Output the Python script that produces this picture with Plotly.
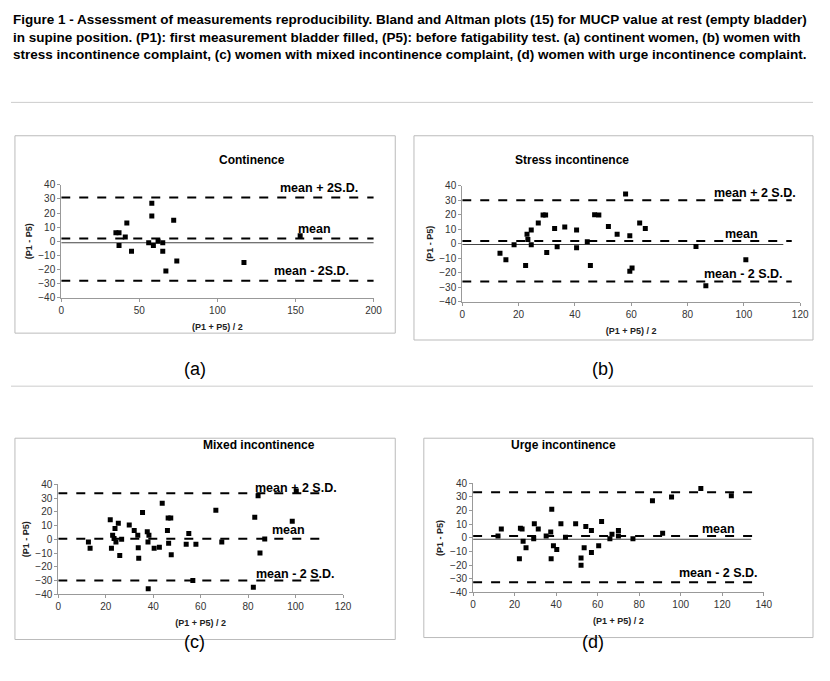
import plotly.graph_objects as go
from plotly.subplots import make_subplots

# page body has an 8px margin, so the figure is drawn slightly smaller and shifted
OFF = 8
W, H = 830 - 2 * OFF, 681 - 2 * OFF


def fx(px):
    return (px - OFF) / W


def fy(py):
    return 1 - (py - OFF) / H


# (a) Continence
a_x = [35, 37, 37, 41, 42, 45, 56, 58, 58, 59, 62, 65, 65, 67, 72, 74, 117, 153]
a_y = [6, 6, -3, 3, 13, -7, -1, 18, 27, -3, 0, -1, -7, -21, 15, -14, -15, 4]
# (b) Stress incontinence
b_x = [13.4, 15.5, 18.4, 22.5, 23, 23.3, 24.5, 24.5, 27, 28.7, 29.6, 30, 32.8, 33.7, 36.4, 40.6,
       40.6, 44.4, 45.5, 47, 48.5, 51.9, 55, 58, 59.5, 59.5, 60.3, 63, 65, 83, 86.5, 100.7]
b_y = [-6.6, -11, -0.7, -15, 6.6, 3, 9.5, -0.7, 14.3, 19.8, 19.8, -6, 10.5, -2, 11.6, 9.5,
       -2.7, 1.4, -15, 20, 19.8, 12, 6.6, 34.3, 5.5, -19, -16.8, 14.3, 10.5, -1.8, -28.9, -11]
# (c) Mixed incontinence
c_x = [12.7, 13.4, 21.9, 22.4, 22.9, 23.5, 23.9, 24.3, 25.3, 25.9, 26.7, 29.9, 32, 33.5, 33.7,
       33.9, 35.5, 37.5, 37.8, 37.9, 38.2, 40.4, 42.6, 43.8, 46, 46.3, 46.5, 47.4, 47.6, 53.9,
       55, 56.7, 58, 66.4, 68.9, 82.2, 82.8, 84.2, 85, 87, 98.6, 100.3]
c_y = [-2, -6.4, 14.3, -6.4, 2.9, 0.7, 7.9, -2, 11.7, -11.7, 0, 10.5, 6.4, 2.9, -6.2,
       -13.8, 19.5, 5.5, -2, -36, 2.9, -6.4, -5.7, 26.2, 6.4, 15.5, -2.9, 15.5, -11.2, -3.6,
       4.3, -30, -3.6, 21.2, -1.9, -34.8, 16, 31.7, -10, 0.2, 13.1, 35.2]
# (d) Urge incontinence
d_x = [12, 13.6, 22.3, 22.8, 23.6, 24.1, 25.5, 29.2, 29.5, 31.4, 35.2, 37.4, 37.6, 37.9, 38.7,
       40.3, 42.3, 44.5, 49.4, 52, 52, 53.5, 54.3, 57, 57, 60.5, 61.9, 65.9, 66.9, 70, 70, 77,
       86.4, 91.3, 95.6, 109.7, 124.4]
d_y = [1.4, 6.6, -15.4, 7.1, 6.6, -2.4, -7.3, -0.7, 10.4, 6.6, 1.4, 4.3, -15.4, 21, -5.7,
       -8.5, 10.4, 0.5, 10.4, -14.7, -20.1, -7.3, 8.3, 5.4, -10.7, -5.7, 12.1, -0.7, 2.6, 5.4, 1.4, -0.7,
       27.2, 3.3, 30, 36.2, 31]

titles = ["Continence", "Stress incontinence", "Mixed incontinence", "Urge incontinence"]
# upper, mean, lower, zero-line, dashed x-end, axis max, tick step
limits = [(31, 2, -28, -1, 210, 200, 50), (30, 2, -26, -0.5, 117, 120, 20),
          (33.5, 0.5, -30, None, 113, 120, 20), (33.5, 1.3, -32.5, -1, 137, 140, 20)]
labels_plus = ["mean + 2S.D.", "mean + 2 S.D.", "mean + 2 S.D.", "mean + 2 S.D."]
labels_minus = ["mean - 2S.D.", "mean - 2 S.D.", "mean - 2 S.D.", "mean - 2 S.D."]

# plot areas in pixels: x0, x1, y_top(40), y_bottom(-40)
areas = [(59, 376, 182, 297), (466, 809, 183, 301), (56, 345, 487, 599), (477, 772, 486, 597)]
boxes = [(12, 398, 132, 333), (417, 822, 132, 340), (12, 398, 440, 645), (427, 822, 440, 643)]
label_x = [(165, 162, 160), (104, 99, 100), (100, 97, 100), (118, 118, 118)]
label_dy = [(7, 7, 7), (5, 5, 5), (4, 6, 5), (7, 5, 7)]

fig = make_subplots(rows=2, cols=2)
data = [(a_x, a_y), (b_x, b_y), (c_x, c_y), (d_x, d_y)]
font = "Liberation Sans Narrow, Arial Narrow, Liberation Sans, Arial"

for i, ((xs, ys), lim, area, box) in enumerate(zip(data, limits, areas, boxes)):
    r, c = i // 2 + 1, i % 2 + 1
    up, mn, lo, zero, xend, xmax, step = lim
    if zero is not None:
        fig.add_trace(go.Scatter(x=[0, xend - 3], y=[zero, zero], mode="lines",
                                 line=dict(color="#444", width=1.2)), row=r, col=c)
    for v in (up, mn, lo):
        fig.add_trace(go.Scatter(x=[0, xend], y=[v, v], mode="lines",
                                 line=dict(color="black", width=2, dash="dash")), row=r, col=c)
    fig.add_trace(go.Scatter(x=xs, y=ys, mode="markers",
                             marker=dict(symbol="square", size=5, color="black")), row=r, col=c)
    x0, x1, yt, yb = area
    fig.update_xaxes(domain=[fx(x0), fx(x1)], range=[0, xmax], dtick=step, showgrid=False,
                     zeroline=False, showline=True, linecolor="#999", ticks="outside",
                     ticklen=3, tickcolor="#999", tickfont=dict(size=10, color="#333", family="Arial"),
                     title=dict(text="<b>(P1 + P5) / 2</b>", font=dict(size=9, family="Arial", color="#222"),
                                standoff=8),
                     row=r, col=c)
    fig.update_yaxes(domain=[fy(yb), fy(yt)], range=[-40, 40], dtick=10, showgrid=False,
                     zeroline=False, showline=True, linecolor="#999", ticks="outside",
                     ticklen=3, tickcolor="#999", tickfont=dict(size=10, color="#333", family="Arial"),
                     title=dict(text="<b>(P1 - P5)</b>", font=dict(size=9, family="Arial", color="#222"),
                                standoff=4),
                     row=r, col=c)
    bx0, bx1, by0, by1 = box
    fig.add_shape(type="rect", xref="paper", yref="paper", x0=fx(bx0), x1=fx(bx1),
                  y0=fy(by1), y1=fy(by0), line=dict(color="#bbb", width=1))
    fig.add_annotation(xref="paper", yref="paper", x=fx((x0 + x1) / 2), y=fy(by0 + 16),
                       text="<b>" + titles[i] + "</b>", showarrow=False,
                       font=dict(size=12, family="Arial", color="black"))
    ax = "x" if i == 0 else "x%d" % (i + 1)
    ay = "y" if i == 0 else "y%d" % (i + 1)
    lx, ld = label_x[i], label_dy[i]
    for txt, xv, yv in ((labels_plus[i], lx[0], up + ld[0]), ("mean", lx[1], mn + ld[1]),
                        (labels_minus[i], lx[2], lo + ld[2])):
        fig.add_annotation(xref=ax, yref=ay, x=xv, y=yv, text="<b>" + txt + "</b>",
                           showarrow=False, font=dict(size=12.5, family="Arial", color="black"))

for txt, px_, py_ in (("(a)", 182, 370), ("(b)", 622, 370), ("(c)", 182, 660), ("(d)", 612, 660)):
    fig.add_annotation(xref="paper", yref="paper", x=fx(px_), y=fy(py_), text=txt,
                       showarrow=False, font=dict(size=18, family="Arial", color="black"))

for py_ in (98, 387):
    fig.add_shape(type="line", xref="paper", yref="paper", x0=0, x1=1,
                  y0=fy(py_), y1=fy(py_), line=dict(color="#ccc", width=1))

header = ("<b>Figure 1 - Assessment of measurements reproducibility. Bland and Altman plots (15) for MUCP value at rest (empty bladder)<br>"
          "in supine position. (P1): first measurement bladder filled, (P5): before fatigability test. (a) continent women, (b) women with<br>"
          "stress incontinence complaint, (c) women with mixed incontinence complaint, (d) women with urge incontinence complaint.</b>")
fig.add_annotation(xref="paper", yref="paper", x=fx(8), y=fy(4), xanchor="left", yanchor="top",
                   text=header, showarrow=False, align="left",
                   font=dict(size=13.5, family=font, color="black"))

fig.update_layout(width=W, height=H, margin=dict(l=0, r=0, t=0, b=0), showlegend=False,
                  paper_bgcolor="white", plot_bgcolor="white")
fig.write_html("out.html")
